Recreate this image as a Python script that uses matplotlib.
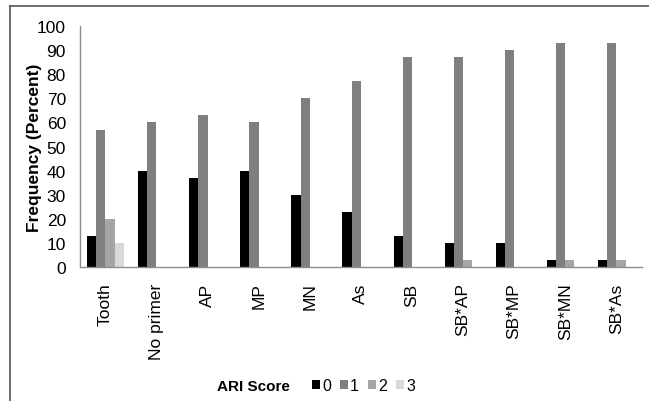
import numpy as np
import matplotlib.pyplot as plt
from matplotlib.lines import Line2D

plt.rcParams['font.family'] = ['Liberation Sans', 'DejaVu Sans']

# Data
groups = ['Tooth', 'No primer', 'AP', 'MP', 'MN', 'As', 'SB',
          'SB*AP', 'SB*MP', 'SB*MN', 'SB*As']
score0 = [13, 40, 37, 40, 30, 23, 13, 10, 10, 3, 3]
score1 = [57, 60, 63, 60, 70, 77, 87, 87, 90, 93, 93]
score2 = [20, 0, 0, 0, 0, 0, 0, 3, 0, 3, 3]
score3 = [10, 0, 0, 0, 0, 0, 0, 0, 0, 0, 0]
score_names = ['0', '1', '2', '3']
colors = ['#000000', '#7f7f7f', '#a5a5a5', '#d9d9d9']

fig = plt.figure(figsize=(6.49, 4.02), dpi=100)
ax = fig.add_axes([0.123, 0.333, 0.866, 0.600])

x = np.arange(len(groups))
w = 0.18
series = [score0, score1, score2, score3]
for i, (vals, c, name) in enumerate(zip(series, colors, score_names)):
    ax.bar(x + (i - 1.5) * w, vals, width=w, color=c, label=name)

ax.set_xlim(-0.5, len(groups) - 0.5)
ax.set_ylim(0, 100)
ax.set_yticks(range(0, 101, 10))
ax.set_xticks(x)
ax.set_xticklabels(groups, rotation=90, fontsize=12.5)
ax.tick_params(axis='y', labelsize=12.5, length=0, pad=10)
ax.tick_params(axis='x', length=0, pad=11)
ax.set_ylabel('Frequency (Percent)', fontsize=12.5, fontweight='bold')
ax.yaxis.set_label_coords(-0.067, 0.5)

for s in ['top', 'right']:
    ax.spines[s].set_visible(False)
for s in ['left', 'bottom']:
    ax.spines[s].set_color('#8c8c8c')
    ax.spines[s].set_linewidth(1.0)

# legend
fig.text(0.447, 0.038, 'ARI Score', fontsize=11, fontweight='bold',
         ha='right', va='center')
leg = fig.legend(loc='center left', bbox_to_anchor=(0.468, 0.038), ncol=4,
                 frameon=False, fontsize=11.5, handlelength=0.5,
                 handleheight=0.5, handletextpad=0.15, columnspacing=0.55,
                 borderpad=0)

# outer border (left and top only)
fig.add_artist(Line2D([0.0155, 0.0155], [0, 0.983], color='#555555', lw=1.2,
                      transform=fig.transFigure))
fig.add_artist(Line2D([0.0155, 1.0], [0.983, 0.983], color='#555555', lw=1.2,
                      transform=fig.transFigure))

fig.savefig('out.png', dpi=100)
